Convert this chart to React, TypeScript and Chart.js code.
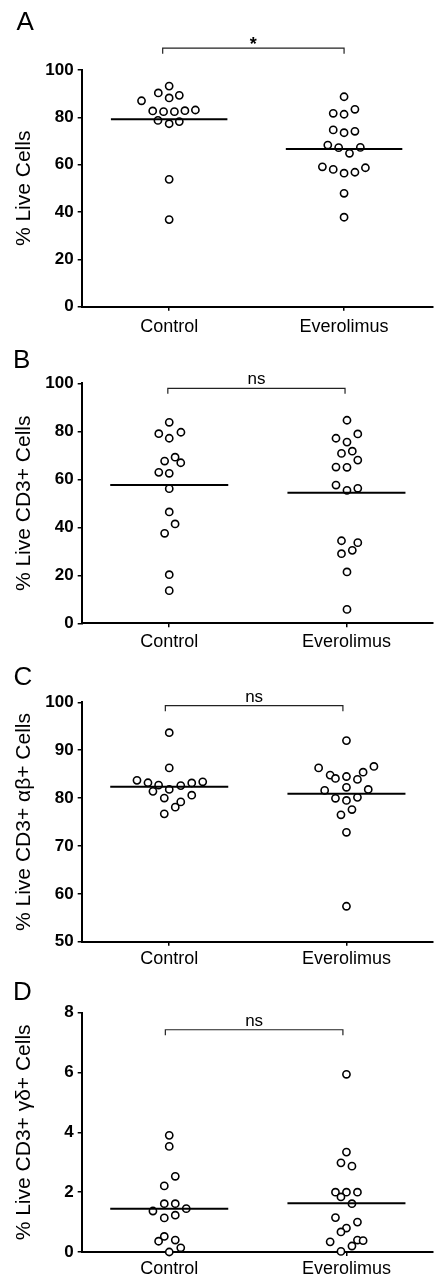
import React, { useEffect, useRef } from "react";
import { Chart, registerables } from "chart.js";

Chart.register(...registerables);

const categories = ["Control", "Everolimus"];

// Panel A: % Live Cells
const liveControl = [93.2, 90.3, 89.3, 88.2, 87.0, 82.7, 82.4, 82.4, 82.8, 83.1, 78.7, 77.3, 78.2, 53.8, 36.8];
const liveControlJitter = [0, -0.062, 0.058, 0, -0.158, -0.094, -0.032, 0.03, 0.09, 0.15, -0.064, 0, 0.058, 0, 0];
const liveEvero = [88.7, 81.7, 81.3, 83.4, 74.7, 73.5, 74.1, 68.3, 67.2, 64.8, 67.3, 59.1, 58.0, 56.4, 56.8, 58.7, 47.9, 37.8];
const liveEveroJitter = [0, -0.062, 0, 0.062, -0.062, 0, 0.062, -0.093, -0.031, 0.031, 0.093, -0.124, -0.062, 0, 0.062, 0.122, 0, 0];
const liveMean = [79.2, 66.6];

// Panel B: % Live CD3+ Cells
const cd3Control = [83.75, 79.0, 77.1, 79.6, 67.6, 69.2, 66.9, 62.9, 62.5, 56.1, 46.4, 41.4, 37.5, 20.25, 13.6];
const cd3ControlJitter = [0, -0.059, 0, 0.066, -0.026, 0.033, 0.065, -0.059, 0, 0, 0, 0.033, -0.026, 0, 0];
const cd3Evero = [84.6, 77.1, 75.5, 78.9, 70.8, 71.7, 68.0, 65.1, 65.0, 57.6, 55.4, 56.25, 34.4, 33.6, 30.4, 29.0, 21.4, 5.8];
const cd3EveroJitter = [0.003, -0.059, 0.003, 0.064, -0.028, 0.033, 0.064, -0.059, 0.003, -0.059, 0.003, 0.064, -0.028, 0.064, 0.033, -0.028, 0.003, 0.003];
const cd3Mean = [57.6, 54.4];

// Panel C: % Live CD3+ αβ+ Cells
const abControl = [93.65, 86.3, 83.7, 83.2, 82.7, 82.6, 83.15, 83.4, 81.4, 81.8, 80.0, 80.6, 79.2, 78.1, 76.7];
const abControlJitter = [0, 0, -0.182, -0.12, -0.06, 0.065, 0.127, 0.189, -0.092, 0, -0.028, 0.127, 0.065, 0.034, -0.028];
const abEvero = [92.0, 86.3, 86.6, 84.8, 84.1, 84.5, 83.9, 85.4, 81.6, 82.25, 81.8, 79.95, 79.5, 80.15, 77.6, 76.5, 72.85, 57.4];
const abEveroJitter = [0, -0.157, 0.155, -0.092, -0.062, 0, 0.062, 0.094, -0.123, 0, 0.123, -0.062, 0, 0.062, 0.031, -0.031, 0, 0];
const abMean = [82.37, 80.9];

// Panel D: % Live CD3+ γδ+ Cells
const gdControl = [3.9, 3.53, 2.53, 2.21, 1.615, 1.615, 1.37, 1.45, 1.14, 1.23, 0.52, 0.36, 0.4, 0.14, 0.0];
const gdControlJitter = [0, 0, 0.034, -0.028, -0.028, 0.034, -0.092, 0.096, -0.028, 0.034, -0.028, -0.06, 0.034, 0.065, 0];
const gdEvero = [5.94, 3.34, 2.98, 2.87, 2.0, 2.0, 2.0, 1.84, 1.615, 1.15, 1.0, 0.8, 0.67, 0.34, 0.4, 0.38, 0.2, 0.02];
const gdEveroJitter = [0, 0, -0.031, 0.031, -0.062, 0, 0.062, -0.031, 0.031, -0.062, 0.062, 0, -0.031, -0.092, 0.062, 0.094, 0.031, -0.031];
const gdMean = [1.45, 1.63];

const panelLetters = ["A", "B", "C", "D"];
const yTitles = ["% Live Cells", "% Live CD3+ Cells", "% Live CD3+ \u03B1\u03B2+ Cells", "% Live CD3+ \u03B3\u03B4+ Cells"];
const significance = ["*", "ns", "ns", "ns"];

const FONT = "'Liberation Sans', Arial, Helvetica, sans-serif";

type Panel = {
  letter: string;
  title: string;
  control: number[];
  controlJitter: number[];
  evero: number[];
  everoJitter: number[];
  means: number[];
  yMin: number;
  yMax: number;
  step: number;
  sig: string;
  sigBold: boolean;
  sigOffset: number;
  bracketY: number;
  bracketX: [number, number];
  xMin: number;
  xMax: number;
  top: number;
  height: number;
  areaTop: number;
  areaBottom: number;
  letterBaseline: number;
  letterX: number;
  xLabelPad: number;
};

const panels: Panel[] = [
  {
    letter: panelLetters[0], title: yTitles[0],
    control: liveControl, controlJitter: liveControlJitter,
    evero: liveEvero, everoJitter: liveEveroJitter, means: liveMean,
    yMin: 0, yMax: 100, step: 20,
    sig: significance[0], sigBold: true, sigOffset: 2, bracketY: 109.2, bracketX: [-0.037, 0],
    xMin: -0.5, xMax: 1.505, top: 0, height: 340, areaTop: 70, areaBottom: 306.7, letterBaseline: 30,
    letterX: 16.5, xLabelPad: 5.5,
  },
  {
    letter: panelLetters[1], title: yTitles[1],
    control: cd3Control, controlJitter: cd3ControlJitter,
    evero: cd3Evero, everoJitter: cd3EveroJitter, means: cd3Mean,
    yMin: 0, yMax: 100, step: 20,
    sig: significance[1], sigBold: false, sigOffset: -4, bracketY: 97.9, bracketX: [-0.008, -0.008],
    xMin: -0.494, xMax: 1.485, top: 340, height: 317, areaTop: 383.3, areaBottom: 623.3, letterBaseline: 368,
    letterX: 13, xLabelPad: 3.6,
  },
  {
    letter: panelLetters[2], title: yTitles[2],
    control: abControl, controlJitter: abControlJitter,
    evero: abEvero, everoJitter: abEveroJitter, means: abMean,
    yMin: 50, yMax: 100, step: 10,
    sig: significance[2], sigBold: false, sigOffset: -4, bracketY: 99.3, bracketX: [-0.022, -0.02],
    xMin: -0.494, xMax: 1.485, top: 657, height: 315, areaTop: 702.3, areaBottom: 941.7, letterBaseline: 685,
    letterX: 13.5, xLabelPad: 2.5,
  },
  {
    letter: panelLetters[3], title: yTitles[3],
    control: gdControl, controlJitter: gdControlJitter,
    evero: gdEvero, everoJitter: gdEveroJitter, means: gdMean,
    yMin: 0, yMax: 8, step: 2,
    sig: significance[3], sigBold: false, sigOffset: -4, bracketY: 7.43, bracketX: [-0.022, -0.02],
    xMin: -0.494, xMax: 1.485, top: 972, height: 305, areaTop: 1012.7, areaBottom: 1252, letterBaseline: 1000,
    letterX: 13, xLabelPad: 2.5,
  },
];

const MEAN_HALF = 0.333;

function PanelChart({ p }: { p: Panel }) {
  const ref = useRef<HTMLCanvasElement>(null);
  useEffect(() => {
    if (!ref.current) return;
    const decor = {
      id: "decor",
      afterDraw(chart: any) {
        const c = chart.ctx as CanvasRenderingContext2D;
        const xs = chart.scales.x;
        const ys = chart.scales.y;
        c.save();
        const x0 = xs.getPixelForValue(0 + p.bracketX[0]);
        const x1 = xs.getPixelForValue(1 + p.bracketX[1]);
        const yb = ys.getPixelForValue(p.bracketY);
        c.strokeStyle = "#222";
        c.lineWidth = 1.2;
        c.beginPath();
        c.moveTo(x0, yb + 5.5);
        c.lineTo(x0, yb);
        c.lineTo(x1, yb);
        c.lineTo(x1, yb + 5.5);
        c.stroke();
        c.fillStyle = "#000";
        c.textAlign = "center";
        c.textBaseline = "alphabetic";
        c.font = `${p.sigBold ? "bold " : ""}${p.sigBold ? 18 : 17}px ${FONT}`;
        c.fillText(p.sig, (x0 + x1) / 2, yb + p.sigOffset);
        c.textAlign = "left";
        c.font = `26px ${FONT}`;
        c.fillText(p.letter, p.letterX, p.letterBaseline - p.top);
        c.restore();
      },
    };

    const pointStyle = {
      pointRadius: 3.6,
      pointBorderWidth: 1.6,
      pointBorderColor: "#000",
      pointBackgroundColor: "#fff",
      showLine: false,
      clip: false as any,
      order: 1,
    };
    const lineStyle = {
      showLine: true,
      borderColor: "#000",
      borderWidth: 2,
      pointRadius: 0,
      clip: false as any,
      order: 0,
    };

    const chart = new Chart(ref.current, {
      type: "scatter",
      data: {
        datasets: [
          { data: p.control.map((v, i) => ({ x: 0 + p.controlJitter[i], y: v })), ...pointStyle },
          { data: p.evero.map((v, i) => ({ x: 1 + p.everoJitter[i], y: v })), ...pointStyle },
          { data: [{ x: 0 - MEAN_HALF, y: p.means[0] }, { x: 0 + MEAN_HALF, y: p.means[0] }], ...lineStyle },
          { data: [{ x: 1 - MEAN_HALF, y: p.means[1] }, { x: 1 + MEAN_HALF, y: p.means[1] }], ...lineStyle },
        ] as any,
      },
      options: {
        responsive: false,
        animation: false,
        devicePixelRatio: 1,
        events: [],
        layout: { padding: { top: p.areaTop - p.top, left: 0, right: 0, bottom: 0 } },
        plugins: {
          legend: { display: false },
          tooltip: { enabled: false },
          title: { display: false },
        },
        scales: {
          x: {
            type: "linear",
            min: p.xMin,
            max: p.xMax,
            afterBuildTicks: (s: any) => {
              s.ticks = [{ value: 0 }, { value: 1 }];
            },
            afterFit: (s: any) => {
              s.height = p.top + p.height - p.areaBottom;
            },
            ticks: {
              callback: (v: any) => categories[Number(v)] ?? "",
              font: { family: FONT, size: 18 },
              color: "#000",
              padding: p.xLabelPad,
              autoSkip: false,
              maxRotation: 0,
            },
            grid: { display: true, drawOnChartArea: false, drawTicks: true, tickLength: 4, color: "#000", lineWidth: 1.5 },
            border: { display: true, color: "#000", width: 2 },
          },
          y: {
            type: "linear",
            min: p.yMin,
            max: p.yMax,
            afterFit: (s: any) => {
              s.width = 81.7;
            },
            ticks: {
              stepSize: p.step,
              font: { family: FONT, size: 17, weight: "bold" },
              color: "#000",
              padding: 4,
            },
            grid: { display: true, drawOnChartArea: false, drawTicks: true, tickLength: 4, color: "#000", lineWidth: 1.5 },
            border: { display: true, color: "#000", width: 2 },
            title: {
              display: true,
              text: p.title,
              font: { family: FONT, size: 21 },
              color: "#000",
              padding: { top: 12, bottom: 0 },
            },
          },
        },
      } as any,
      plugins: [decor],
    });
    return () => chart.destroy();
  }, []);
  return (
    <div style={{ position: "absolute", left: 0, top: p.top, width: 438, height: p.height }}>
      <canvas ref={ref} width={438} height={p.height} style={{ display: "block", width: 438, height: p.height }} />
    </div>
  );
}

export default function App() {
  return (
    <div style={{ position: "absolute", left: 0, top: 0, width: 438, height: 1277, background: "#fff", overflow: "hidden" }}>
      {panels.map((p) => (
        <PanelChart key={p.letter} p={p} />
      ))}
    </div>
  );
}
